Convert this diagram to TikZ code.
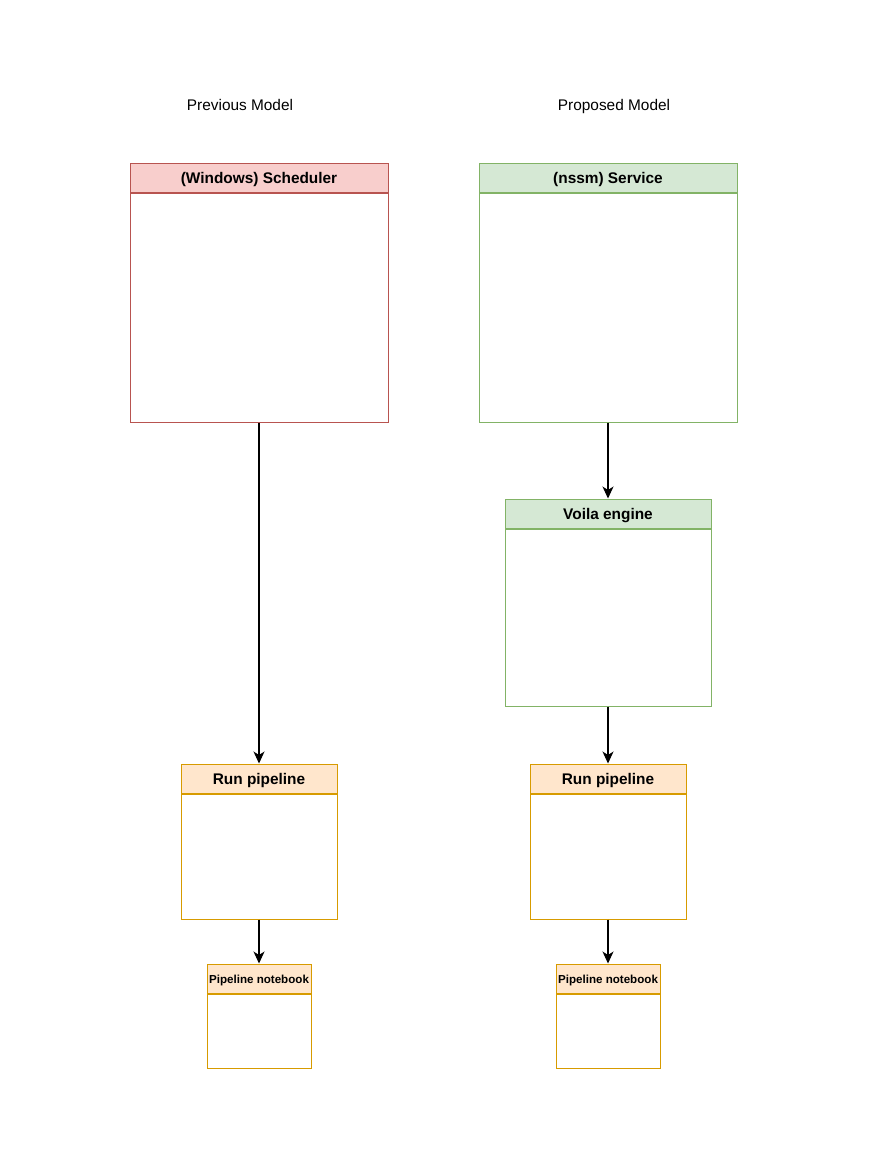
\documentclass[tikz,border=0pt]{standalone}
\usepackage{fontspec}
\setmainfont{Liberation Sans}
\usetikzlibrary{arrows.meta,positioning}

\definecolor{redfill}{HTML}{F8CECC}
\definecolor{redline}{HTML}{B85450}
\definecolor{greenfill}{HTML}{D5E8D4}
\definecolor{greenline}{HTML}{82B366}
\definecolor{orangefill}{HTML}{FFE6CC}
\definecolor{orangeline}{HTML}{D79B00}

\begin{document}
\begin{tikzpicture}[
    x=1pt,
    y=-1pt,
    every node/.style={
        inner sep=0pt,
        line width=1pt,
        text height=14pt,
        text depth=2pt,
        font=\fontsize{15.4}{18}\selectfont
    },
    head/.style={
        draw,
        minimum width=#1,
        minimum height=29pt,
        font=\bfseries\fontsize{15.4}{18}\selectfont
    },
    small/.style={
        text height=10.5pt,
        text depth=1.5pt,
        font=\bfseries\fontsize{11.6}{14}\selectfont
    },
    body/.style={draw, fill=white},
    redhead/.style={head=#1, draw=redline, fill=redfill},
    greenhead/.style={head=#1, draw=greenline, fill=greenfill},
    orangehead/.style={head=#1, draw=orangeline, fill=orangefill},
    flow/.style={draw, -{Stealth[length=12pt,width=11pt,inset=3.5pt]}, line width=1.1pt}
]
\useasboundingbox (0,0) rectangle (868,1151);

% titles
\node (prev) at (240,104) {Previous Model};
\node (prop) at (614,104) {Proposed Model};

% previous model
\node[redhead=258pt] (sched) at (259,177.5) {(Windows) Scheduler};
\node[body, draw=redline, minimum width=258pt, minimum height=229pt,
      below=0pt of sched] (schedbody) {};

\node[orangehead=156pt] (runL) at (259,778.5) {Run pipeline};
\node[body, draw=orangeline, minimum width=156pt, minimum height=125pt,
      below=0pt of runL] (runLbody) {};

\node[orangehead=104pt, small] (nbL) at (259,978.5) {Pipeline notebook};
\node[body, draw=orangeline, minimum width=104pt, minimum height=74pt,
      below=0pt of nbL] (nbLbody) {};

% proposed model
\node[greenhead=258pt] (serv) at (608,177.5) {(nssm) Service};
\node[body, draw=greenline, minimum width=258pt, minimum height=229pt,
      below=0pt of serv] (servbody) {};

\node[greenhead=206pt] (voila) at (608,513.5) {Voila engine};
\node[body, draw=greenline, minimum width=206pt, minimum height=177pt,
      below=0pt of voila] (voilabody) {};

\node[orangehead=156pt] (runR) at (608,778.5) {Run pipeline};
\node[body, draw=orangeline, minimum width=156pt, minimum height=125pt,
      below=0pt of runR] (runRbody) {};

\node[orangehead=104pt, small] (nbR) at (608,978.5) {Pipeline notebook};
\node[body, draw=orangeline, minimum width=104pt, minimum height=74pt,
      below=0pt of nbR] (nbRbody) {};

% arrows
\draw[flow] (schedbody.south) -- (runL.north);
\draw[flow] (runLbody.south) -- (nbL.north);
\draw[flow] (servbody.south) -- (voila.north);
\draw[flow] (voilabody.south) -- (runR.north);
\draw[flow] (runRbody.south) -- (nbR.north);
\end{tikzpicture}
\end{document}
